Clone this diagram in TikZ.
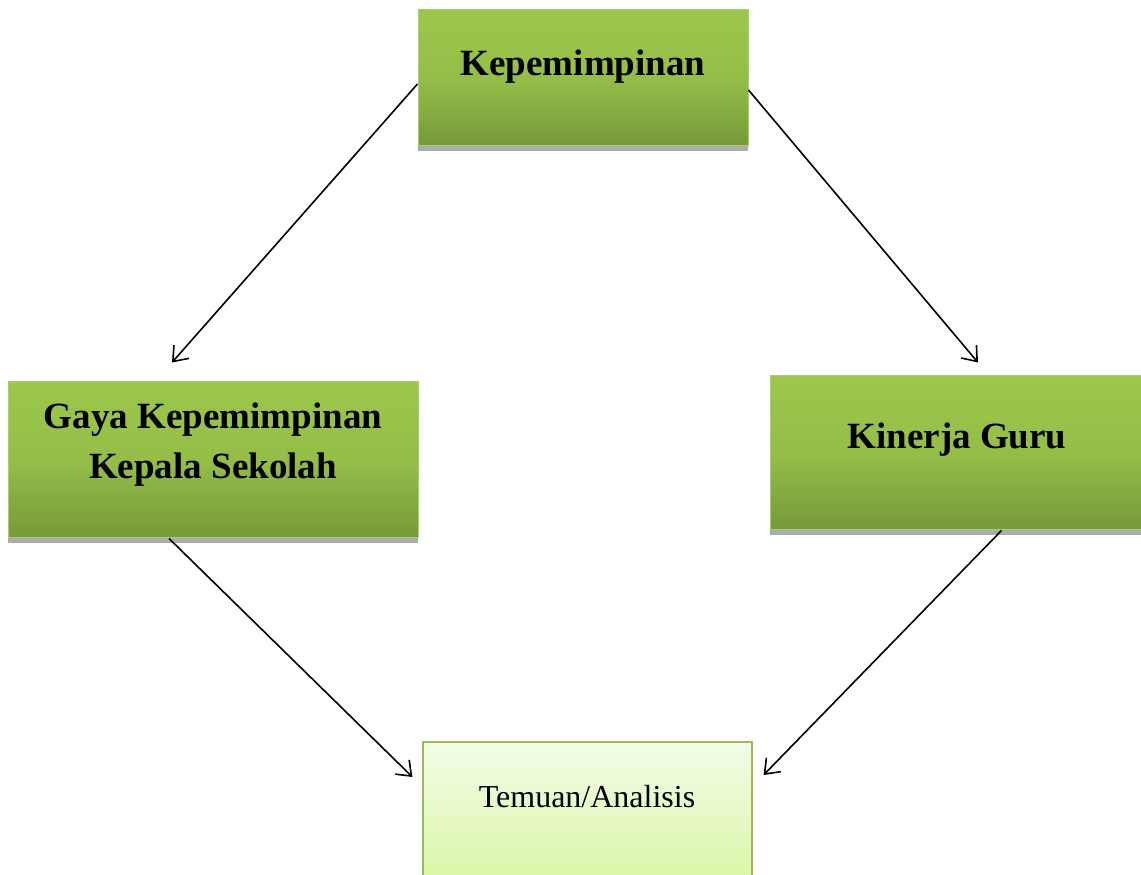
\documentclass[tikz,border=0pt]{standalone}
\usepackage{fontspec}
\setmainfont{Liberation Serif}
\usetikzlibrary{arrows.meta}
\definecolor{gtop}{HTML}{9CC74C}
\definecolor{gbot}{HTML}{76993A}
\definecolor{gedge}{HTML}{A9CF68}
\definecolor{ltop}{HTML}{F2FCE8}
\definecolor{lbot}{HTML}{DCF6A8}
\definecolor{ledge}{HTML}{9BBB59}
\tikzset{
  x=1pt, y=1pt,
  gbox/.style={draw=gedge, line width=1pt, top color=gtop, bottom color=gbot,
    middle color=gtop!80!gbot, shading angle=0, inner sep=0pt,
    preaction={fill=black!33, transform canvas={yshift=-5pt}}},
  lbox/.style={draw=ledge, line width=1.2pt, top color=ltop, bottom color=lbot, inner sep=0pt},
  btext/.style={font=\fontsize{37}{50}\selectfont\bfseries, align=center, inner sep=0pt},
  rtext/.style={font=\fontsize{32}{38}\selectfont, align=center, inner sep=0pt},
  conn/.style={line width=1.6pt, -{Straight Barb[length=13pt,width=20pt,line width=1.6pt]}}
}
\begin{document}
\begin{tikzpicture}
\useasboundingbox (0,0) rectangle (1141,875);
% boxes
\node[gbox, minimum width=330pt, minimum height=136pt] (kep) at (583,797) {};
\node[gbox, minimum width=410pt, minimum height=156pt] (gaya) at (213,415) {};
\node[gbox, minimum width=375pt, minimum height=154pt] (kin) at (957.5,422) {};
\node[lbox, minimum width=329pt, minimum height=138pt] (tem) at (587.5,64) {};
% texts
\node[btext] (kept) at (583,808) {Kepemimpinan};
\node[btext] (gayat) at (213,430) {Gaya Kepemimpinan\\Kepala Sekolah};
\node[btext] (kint) at (957,435) {Kinerja Guru};
\node[rtext] (temt) at (587,78) {Temuan/Analisis};
% connectors
\draw[conn] ([yshift=-6pt]kep.west) -- ([xshift=-41pt,yshift=19pt]gaya.north);
\draw[conn] ([yshift=-12pt]kep.east) -- ([xshift=20.5pt,yshift=13pt]kin.north);
\draw[conn] ([xshift=-44pt]gaya.south) -- ([xshift=-10pt,yshift=34pt]tem.west);
\draw[conn] ([xshift=44pt]kin.south) -- ([xshift=11pt,yshift=36pt]tem.east);
\end{tikzpicture}
\end{document}
